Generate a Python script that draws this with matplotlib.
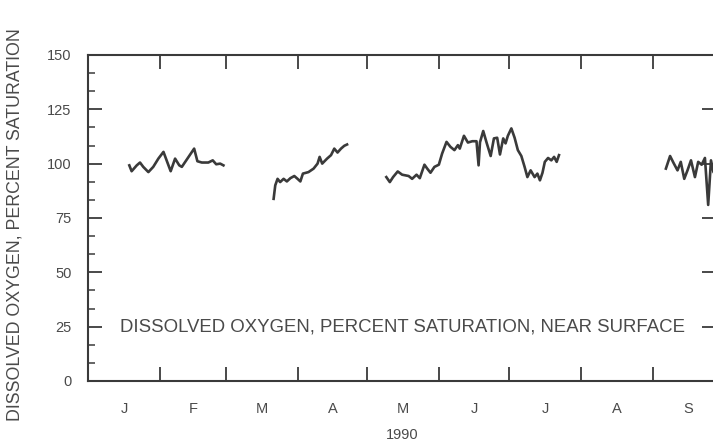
import matplotlib.pyplot as plt
import numpy as np
from matplotlib.ticker import MultipleLocator, FixedLocator

plt.rcParams['font.family'] = ['Liberation Sans', 'DejaVu Sans']

# day of year 1990 (0 = Jan 1) and percent saturation, four record segments
seg1_day = [17.6, 18.6, 20.8, 22.2, 23.6, 25.8, 27.9, 30.1, 32.3, 34.0, 35.4, 37.3, 39.1, 40.2,
            42.6, 45.5, 46.9, 48.8, 51.6, 53.5, 55.0, 56.7, 58.1]
seg1_val = [99.2, 96.5, 99.2, 100.5, 98.5, 96.1, 98.5, 102.3, 105.4, 100.5, 96.5, 102.3, 99.2, 98.5,
            102.3, 106.9, 101.1, 100.5, 100.5, 101.5, 99.7, 100.0, 99.2]

seg2_day = [79.7, 80.4, 81.4, 82.5, 84.0, 85.4, 86.9, 88.6, 90.0, 91.2, 92.3, 94.7, 96.9, 98.6,
            99.5, 100.6, 102.7, 104.4, 105.8, 107.2, 108.7, 110.1, 111.3]
seg2_val = [83.8, 90.0, 93.0, 91.5, 93.0, 91.8, 93.3, 94.3, 93.0, 91.8, 95.4, 96.1, 97.7, 100.0,
            103.1, 100.0, 102.3, 103.9, 106.9, 105.1, 106.9, 108.2, 108.8]

seg3_day = [128.2, 129.7, 131.1, 133.1, 135.0, 137.8, 139.3, 141.2, 142.6, 144.6, 145.8, 147.2,
            148.9, 150.8, 152.2, 154.1, 155.8, 157.5, 159.0, 159.8, 161.6, 163.3, 165.2, 167.0,
            167.9, 168.5, 169.9, 171.3, 173.1, 174.5, 175.9, 177.1, 178.5, 179.5, 180.5, 182.0,
            183.4, 184.8, 186.3, 187.7, 188.9, 190.3, 192.0, 193.2, 194.3, 195.4, 196.4, 197.8,
            199.2, 200.4, 201.5, 202.5]
seg3_val = [93.8, 91.5, 93.8, 96.4, 94.9, 94.3, 93.0, 94.9, 93.3, 99.5, 97.7, 95.8,
            98.5, 99.5, 104.6, 110.0, 107.7, 106.2, 108.5, 106.9, 112.8, 109.7, 110.3, 110.3,
            99.2, 109.8, 115.0, 109.8, 103.5, 111.6, 111.9, 104.2, 111.6, 109.3, 112.8, 116.2,
            111.9, 106.2, 103.5, 98.5, 93.8, 96.9, 93.8, 95.4, 92.3, 95.8, 100.8, 102.6,
            101.5, 103.1, 100.8, 103.9]

seg4_day = [248.5, 250.3, 251.8, 253.5, 254.9, 256.4, 257.8, 259.3, 261.0, 262.4, 263.9, 265.3,
            266.7, 267.9, 269.0, 270.0]
seg4_val = [97.7, 103.5, 100.3, 96.9, 100.8, 93.0, 96.9, 101.5, 93.8, 100.8, 99.5, 102.6,
            81.0, 101.5, 96.0, 99.0]

month_starts = [0, 31, 59, 90, 120, 151, 181, 212, 243, 273]
month_labels = ['J', 'F', 'M', 'A', 'M', 'J', 'J', 'A', 'S']

ink = '#3a3a3a'
txt = '#4a4a4a'

fig = plt.figure(figsize=(7.13, 4.43), dpi=100)
ax = fig.add_axes([0.124, 0.14, 0.880, 0.736])

for d, v in [(seg1_day, seg1_val), (seg2_day, seg2_val), (seg3_day, seg3_val), (seg4_day, seg4_val)]:
    ax.plot(d, v, color=ink, lw=1.9, solid_joinstyle='round')

ax.set_xlim(0, 270)
ax.set_ylim(0, 150)

for s in ax.spines.values():
    s.set_color(ink)
    s.set_linewidth(1.5)

ax.yaxis.set_major_locator(MultipleLocator(25))
ax.yaxis.set_minor_locator(MultipleLocator(25 / 3))
ax.xaxis.set_major_locator(FixedLocator(month_starts[1:-1]))
mids = [(a + b) / 2 for a, b in zip(month_starts[:-1], month_starts[1:])]
ax.xaxis.set_minor_locator(FixedLocator(mids))
ax.set_xticklabels([], minor=False)
ax.set_xticklabels(month_labels, minor=True)

ax.tick_params(axis='x', which='major', direction='in', length=10, width=1.3, color=ink,
               top=True, bottom=True)
ax.tick_params(axis='x', which='minor', length=0, pad=15, labelsize=10.5, labelcolor=txt)
ax.tick_params(axis='y', which='major', direction='in', length=10, width=1.3, color=ink,
               left=True, right=True, labelsize=10.5, labelcolor=txt, pad=12)
ax.tick_params(axis='y', which='minor', direction='in', length=5, width=1.1, color=ink,
               left=True, right=False)

ax.set_xlabel('1990', fontsize=10.5, color=txt, labelpad=9)
fig.text(0.021, 0.493, 'DISSOLVED OXYGEN, PERCENT SATURATION', rotation=90, ha='center',
         va='center', fontsize=12.8, color=txt)
ax.text(13.5, 25, 'DISSOLVED OXYGEN, PERCENT SATURATION, NEAR SURFACE', ha='left', va='center',
        fontsize=13.4, color=txt)

fig.savefig('out.png', dpi=100)
